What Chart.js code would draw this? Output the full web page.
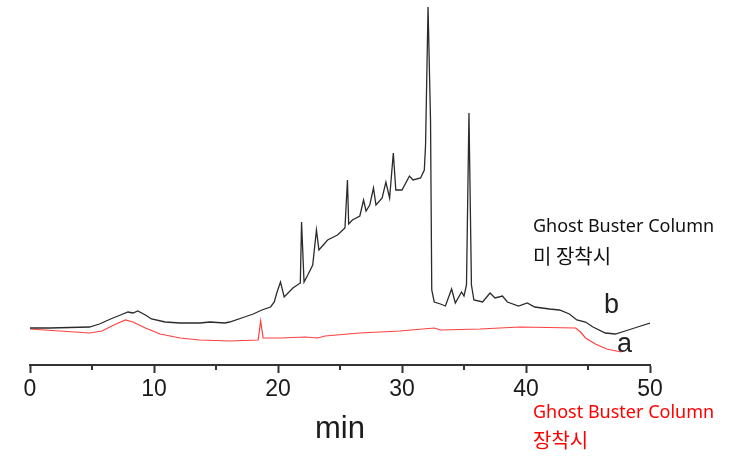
<!DOCTYPE html>
<html>
<head>
<meta charset="utf-8">
<script src="https://cdn.jsdelivr.net/npm/chart.js@4.4.1/dist/chart.umd.min.js"></script>
<style>
  body { margin: 0; background: #fff; }
  #wrap { position: relative; width: 729px; height: 456px; overflow: hidden; }
  .note { position: absolute; white-space: nowrap; font-family: "Noto Sans", "Noto Sans CJK KR", sans-serif; font-size: 18px; line-height: 22px; }
  .ko { font-family: "Noto Sans CJK KR", sans-serif; font-size: 20px; line-height: 24px; }
  .tag { position: absolute; font-family: "Liberation Sans", Arial, sans-serif; font-size: 27px; line-height: 30px; color: #222; }
</style>
</head>
<body>
<div id="wrap">
  <canvas id="chart" width="729" height="456"></canvas>
  <div class="note" style="left:533px; top:214px; color:#111;">Ghost Buster Column</div>
  <div class="note ko" style="left:533px; top:244px; color:#111;">미 장착시</div>
  <div class="note" style="left:533px; top:400px; color:#ff0000;">Ghost Buster Column</div>
  <div class="note ko" style="left:533px; top:428px; color:#ff0000;">장착시</div>
  <div class="tag" style="left:604px; top:289px;">b</div>
  <div class="tag" style="left:617px; top:328px;">a</div>
</div>
<script>
// retention time (min) and detector signal
const bTime = [0, 1.6, 3.2, 4.8, 5.6, 6.5, 7.3, 7.9, 8.3, 8.7, 9.3, 9.8, 10.9, 12.1, 13.7, 14.5, 15.7, 16.1, 17.3, 18.0, 18.7, 19.4, 19.7,
  19.9, 20.2, 20.5, 21.2, 21.8, 21.9, 22.1, 22.4, 22.8, 23.1, 23.3, 24.0, 24.8, 25.4, 25.6, 25.7,
  26.0, 26.6, 26.9, 27.1, 27.4, 27.7, 27.9, 28.4, 28.7, 29.0, 29.3, 29.5, 30.0, 30.6, 30.9, 31.5, 31.8, 31.9,
  32.1, 32.3, 32.4, 32.6, 33.1, 33.5, 34.0, 34.3, 34.8, 35.0, 35.2, 35.4, 35.6, 35.8, 36.5, 37.1, 37.5, 38.1, 38.5,
  39.4, 40.1, 40.7, 41.9, 42.7, 43.5, 44.1, 44.8, 45.4, 46.4, 47.2, 48.0, 49.0, 50.0];
const bSignal = [37, 37, 37.5, 38, 41, 46, 50, 53, 52, 54, 50, 46, 43, 42, 42, 43, 42, 43, 48, 51, 55, 58, 63,
  72, 83, 68, 77, 82, 143, 83, 90, 100, 135, 115, 125, 130, 137, 185, 141,
  145, 149, 165, 154, 160, 177, 160, 167, 183, 167, 212, 175, 175, 189, 185, 187, 195, 220,
  358, 245, 75, 63, 61, 59, 76, 62, 73, 69, 80, 252, 80, 65, 63, 72, 67, 69, 63,
  59, 62, 58, 56, 55, 51, 45, 43, 38, 32, 31, 34, 38, 42];

const aTime = [0, 2.4, 4.8, 5.8, 6.6, 7.3, 7.7, 8.3, 9.3, 10.5, 12.1, 13.7, 16.1, 18.4, 18.6, 18.8, 20.2, 22.2, 23.2, 23.8,
  26.6, 29.8, 32.6, 33.1, 36.3, 39.5, 44.0, 44.4, 44.8, 45.6, 46.5, 47.7];
const aSignal = [36, 34, 32, 34, 39, 43, 45, 43, 37, 31, 27, 25, 24, 25, 44, 27, 27, 28, 27, 29,
  32, 34, 37, 35, 36, 38, 37, 33, 27, 21, 16, 13];

const xTicks = [0, 10, 20, 30, 40, 50];
const xMinorTicks = [5, 15, 25, 35, 45];

const toPoints = (t, v) => t.map((x, i) => ({ x, y: v[i] }));

const minorTicks = {
  id: "minorTicks",
  afterDraw(chart) {
    const x = chart.scales.x;
    const ctx = chart.ctx;
    ctx.save();
    ctx.strokeStyle = "#333";
    ctx.lineWidth = 2;
    xMinorTicks.forEach((t) => {
      const px = Math.round(x.getPixelForValue(t));
      ctx.beginPath();
      ctx.moveTo(px, x.top);
      ctx.lineTo(px, x.top + 5);
      ctx.stroke();
    });
    ctx.restore();
  },
};

new Chart(document.getElementById("chart"), {
  type: "line",
  data: {
    datasets: [
      {
        label: "b",
        data: toPoints(bTime, bSignal),
        borderColor: "#2b2b2b",
        borderWidth: 1.3,
        pointRadius: 0,
        tension: 0,
      },
      {
        label: "a",
        data: toPoints(aTime, aSignal),
        borderColor: "#ff4040",
        borderWidth: 1.2,
        pointRadius: 0,
        tension: 0,
      },
    ],
  },
  options: {
    responsive: false,
    animation: false,
    devicePixelRatio: 1,
    layout: { padding: { left: 30, right: 79, top: 0, bottom: 0 } },
    plugins: { legend: { display: false }, tooltip: { enabled: false } },
    scales: {
      x: {
        type: "linear",
        min: 0,
        max: 50,
        afterBuildTicks: (s) => { s.ticks = xTicks.map((v) => ({ value: v })); },
        afterFit: (s) => {
          s.height = 91;
          s.paddingLeft = 0;
          s.paddingRight = 0;
        },
        border: { display: true, color: "#333", width: 2 },
        grid: { drawOnChartArea: false, tickLength: 8, tickWidth: 2, tickColor: "#333" },
        ticks: {
          color: "#1a1a1a",
          padding: 3,
          maxRotation: 0,
          font: { family: "'Liberation Sans', Arial", size: 23 },
        },
        title: {
          display: true,
          text: "min",
          color: "#1a1a1a",
          padding: { top: 0, bottom: 8 },
          font: { family: "'Liberation Sans', Arial", size: 31 },
        },
      },
      y: { display: false, min: 0, max: 365 },
    },
  },
  plugins: [minorTicks],
});
</script>
</body>
</html>
